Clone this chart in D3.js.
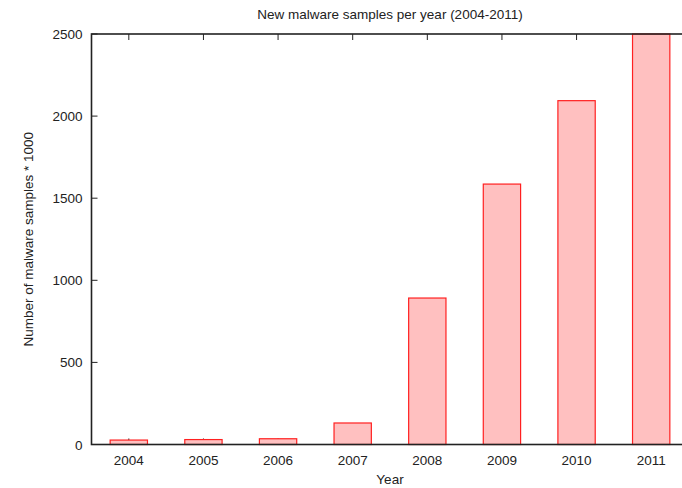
<!DOCTYPE html>
<html>
<head>
<meta charset="utf-8">
<script src="https://cdn.jsdelivr.net/npm/d3@7"></script>
<style>
  html, body { margin: 0; padding: 0; background: #fff; }
  svg { display: block; }
  text { font-family: "Liberation Sans", Arial, Helvetica, sans-serif; fill: #222; }
</style>
</head>
<body>
<svg id="chart" width="682" height="488"></svg>
<script>
// New malware samples per year, in thousands
const years = ["2004", "2005", "2006", "2007", "2008", "2009", "2010", "2011"];
const samples = [27, 30, 35, 131, 892, 1586, 2094, 2500];
const yTicks = [0, 500, 1000, 1500, 2000, 2500];

const svg = d3.select("#chart");
const plotLeft = 91.5, plotRight = 688.5, plotTop = 34, plotBottom = 444.5;

const x = d3.scaleBand().domain(years).range([plotLeft, plotRight]).paddingInner(0.5).paddingOuter(0.25);
const y = d3.scaleLinear().domain([0, 2500]).range([plotBottom, plotTop]);

const axisColor = "#222";
const tickLen = 6;

// tick marks along the frame (all pointing inward)
const g = svg.append("g");
years.forEach(yr => {
  const cx = x(yr) + x.bandwidth() / 2;
  g.append("line").attr("x1", cx).attr("x2", cx).attr("y1", plotBottom).attr("y2", plotBottom - tickLen)
    .attr("stroke", axisColor).attr("stroke-width", 1);
  g.append("line").attr("x1", cx).attr("x2", cx).attr("y1", plotTop).attr("y2", plotTop + tickLen)
    .attr("stroke", axisColor).attr("stroke-width", 1);
});
yTicks.forEach(v => {
  g.append("line").attr("x1", plotLeft).attr("x2", plotLeft + tickLen).attr("y1", y(v)).attr("y2", y(v))
    .attr("stroke", axisColor).attr("stroke-width", 1);
  g.append("line").attr("x1", plotRight).attr("x2", plotRight - tickLen).attr("y1", y(v)).attr("y2", y(v))
    .attr("stroke", axisColor).attr("stroke-width", 1);
});

// bars
svg.append("g").selectAll("rect")
  .data(years.map((yr, i) => ({ yr, v: samples[i] })))
  .join("rect")
  .attr("x", d => x(d.yr))
  .attr("y", d => y(d.v))
  .attr("width", x.bandwidth())
  .attr("height", d => plotBottom - y(d.v))
  .attr("fill", "#ffc0c0")
  .attr("stroke", "#ff2020")
  .attr("stroke-width", 1.2);

// frame
svg.append("rect")
  .attr("x", plotLeft).attr("y", plotTop)
  .attr("width", plotRight - plotLeft).attr("height", plotBottom - plotTop)
  .attr("fill", "none").attr("stroke", axisColor).attr("stroke-width", 1.6);

// tick labels
const fs = 13.5;
years.forEach(yr => {
  svg.append("text")
    .attr("x", x(yr) + x.bandwidth() / 2)
    .attr("y", plotBottom + 20)
    .attr("text-anchor", "middle")
    .attr("font-size", fs)
    .text(yr);
});
yTicks.forEach(v => {
  svg.append("text")
    .attr("x", plotLeft - 9)
    .attr("y", y(v) + 5)
    .attr("text-anchor", "end")
    .attr("font-size", fs)
    .text(v);
});

// titles
svg.append("text")
  .attr("x", (plotLeft + plotRight) / 2).attr("y", 19)
  .attr("text-anchor", "middle").attr("font-size", fs)
  .text("New malware samples per year (2004-2011)");

svg.append("text")
  .attr("x", (plotLeft + plotRight) / 2).attr("y", 484)
  .attr("text-anchor", "middle").attr("font-size", fs)
  .text("Year");

svg.append("text")
  .attr("transform", `translate(33, ${(plotTop + plotBottom) / 2}) rotate(-90)`)
  .attr("text-anchor", "middle").attr("font-size", fs)
  .text("Number of malware samples * 1000");
</script>
</body>
</html>
